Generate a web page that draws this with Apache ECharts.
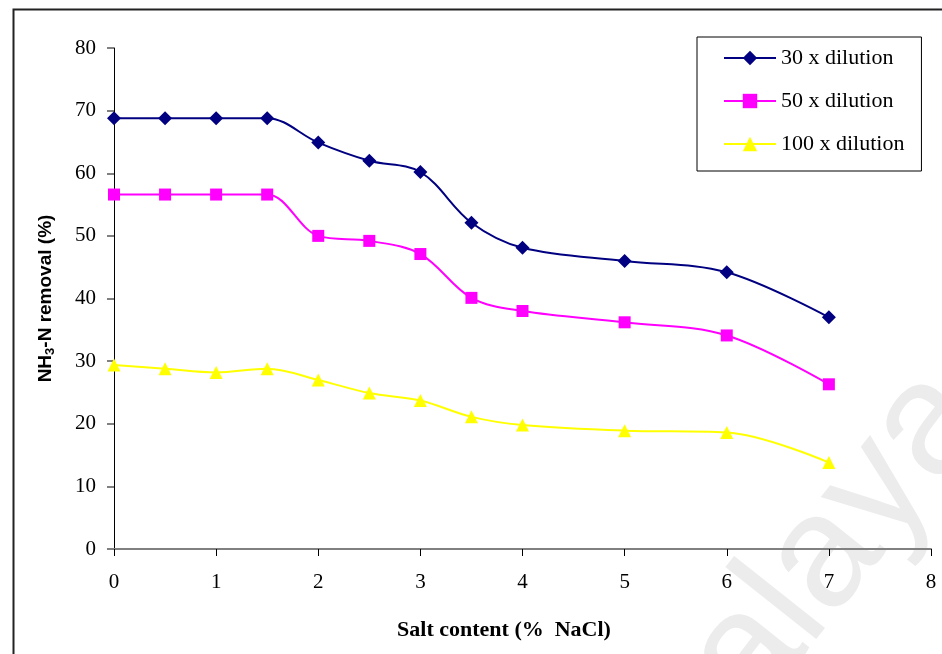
<!DOCTYPE html>
<html>
<head>
<meta charset="utf-8">
<script src="https://cdn.jsdelivr.net/npm/echarts@6/dist/echarts.min.js"></script>
<style>html,body{margin:0;padding:0;background:#fff}#c{width:942px;height:654px}</style>
</head>
<body>
<div id="c"></div>
<script>
const saltContent = [0, 0.5, 1, 1.5, 2, 2.5, 3, 3.5, 4, 5, 6, 7];
const dil30 = [68.8, 68.8, 68.8, 68.8, 64.9, 62.0, 60.2, 52.1, 48.1, 46.0, 44.2, 37.0];
const dil50 = [56.6, 56.6, 56.6, 56.6, 50.0, 49.2, 47.1, 40.1, 38.0, 36.2, 34.1, 26.3];
const dil100 = [29.4, 28.8, 28.2, 28.8, 27.0, 24.9, 23.7, 21.1, 19.8, 18.9, 18.6, 13.8];
const seriesNames = ['30 x dilution', '50 x dilution', '100 x dilution'];
const yTicks = [0, 10, 20, 30, 40, 50, 60, 70, 80];
const xTicks = [0, 1, 2, 3, 4, 5, 6, 7, 8];

const pair = arr => saltContent.map((x, i) => [x, arr[i]]);
const chart = echarts.init(document.getElementById('c'), null, {renderer: 'canvas'});
const serif = '"Liberation Serif", "Times New Roman", serif';
const sans = '"Liberation Sans", Arial, sans-serif';

function mk(name, data, color, symbol, size) {
  return {
    name: name, type: 'line', data: pair(data), smooth: 0.35,
    symbol: symbol, symbolSize: size, showAllSymbol: true,
    lineStyle: {color: color, width: 2},
    itemStyle: {color: color},
    emphasis: {disabled: true}, z: 3
  };
}

chart.setOption({
  animation: false,
  backgroundColor: '#fff',
  graphic: [
    {type: 'rect', left: 11, top: 7, shape: {width: 1000, height: 1000}, style: {fill: 'none', stroke: '#222', lineWidth: 2}, z: 100, silent: true},
    {type: 'text', x: 1020, y: 440, rotation: 0.9, z: 0, silent: true,
     style: {text: 'Universiti Malaya', font: '160px "Liberation Sans", Arial, sans-serif', fill: '#ececec', textAlign: 'right', textVerticalAlign: 'bottom'}},
    {type: 'text', x: 504, y: 630, z: 5, silent: true,
     style: {text: 'Salt content (%  NaCl)', font: 'bold 22px "Liberation Serif", "Times New Roman", serif', fill: '#000', textAlign: 'center', textVerticalAlign: 'middle'}}
  ],
  grid: {left: 114, right: 11, top: 48, bottom: 105, containLabel: false},
  legend: {
    orient: 'vertical', left: 697, top: 37,
    padding: [10, 17, 16, 26], itemGap: 21, itemWidth: 52, itemHeight: 18,
    backgroundColor: '#fff', borderColor: '#000', borderWidth: 1,
    textStyle: {fontFamily: serif, fontSize: 22, color: '#000', lineHeight: 22},
    data: seriesNames, z: 10
  },
  xAxis: {
    type: 'value', min: 0, max: 8, interval: 1,
    axisLine: {lineStyle: {color: '#808080', width: 2}},
    axisTick: {length: 7, lineStyle: {color: '#000', width: 1}},
    axisLabel: {margin: 23, fontFamily: serif, fontSize: 21, color: '#000',
      formatter: v => xTicks.includes(v) ? String(v) : ''},
    splitLine: {show: false}
  },
  yAxis: {
    type: 'value', min: 0, max: 80, interval: 10,
    name: '{a|NH}{s|3}{a|-N removal (%)}', nameLocation: 'middle', nameGap: 57,
    nameTextStyle: {rich: {
      a: {fontFamily: sans, fontWeight: 'bold', fontSize: 19, color: '#000'},
      s: {fontFamily: sans, fontWeight: 'bold', fontSize: 13, color: '#000', verticalAlign: 'bottom', padding: [9, 0, 0, 0]}
    }},
    axisLine: {show: true, lineStyle: {color: '#000', width: 1}},
    axisTick: {show: true, length: 7, lineStyle: {color: '#808080', width: 2}},
    axisLabel: {margin: 18, fontFamily: serif, fontSize: 21, color: '#000',
      formatter: v => yTicks.includes(v) ? String(v) : ''},
    splitLine: {show: false}
  },
  series: [
    mk(seriesNames[0], dil30, '#000080', 'diamond', 14),
    mk(seriesNames[1], dil50, '#FF00FF', 'rect', 12),
    mk(seriesNames[2], dil100, '#FFFF00', 'triangle', 13)
  ]
});
</script>
</body>
</html>
